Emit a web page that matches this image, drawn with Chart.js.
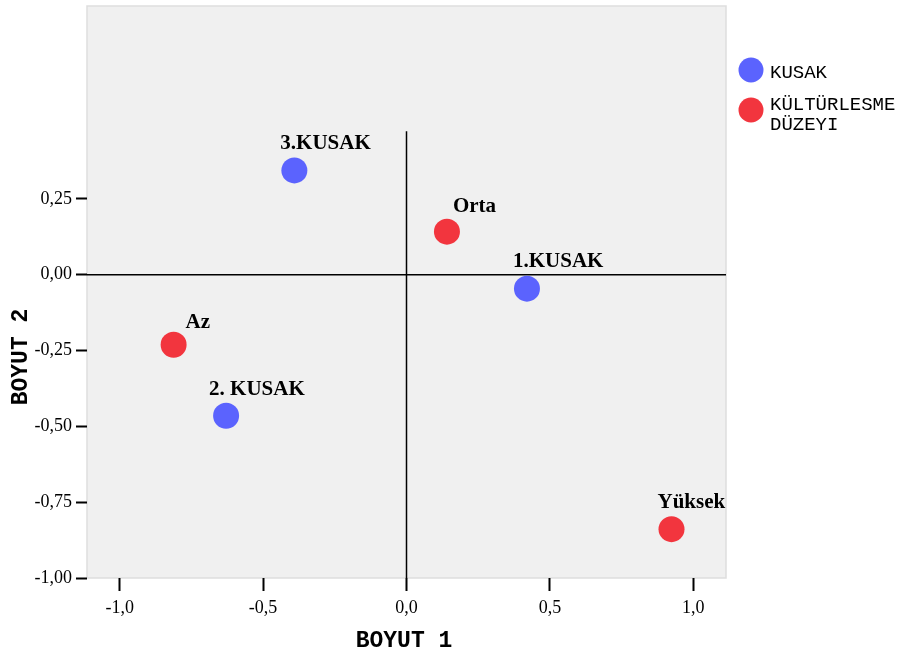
<!DOCTYPE html>
<html>
<head>
<meta charset="utf-8">
<script src="https://cdn.jsdelivr.net/npm/chart.js@4/dist/chart.umd.min.js"></script>
<style>
  html, body { margin: 0; padding: 0; background: #ffffff; }
  #wrap { width: 898px; height: 654px; }
</style>
</head>
<body>
<div id="wrap"><canvas id="c" width="898" height="654"></canvas></div>
<script>
// Joint plot of category points on two dimensions
const seriesNames = ['KUSAK', 'KÜLTÜRLESME DÜZEYI'];

const kusakLabels = ['1.KUSAK', '2. KUSAK', '3.KUSAK'];
const kusakX = [0.420, -0.629, -0.391];
const kusakY = [-0.046, -0.465, 0.344];

const duzeyLabels = ['Az', 'Orta', 'Yüksek'];
const duzeyX = [-0.812, 0.141, 0.924];
const duzeyY = [-0.231, 0.142, -0.839];

const xTicks = [-1.0, -0.5, 0.0, 0.5, 1.0];
const yTicks = [-1.0, -0.75, -0.5, -0.25, 0.0, 0.25];

const xTitle = 'BOYUT 1';
const yTitle = 'BOYUT 2';

// Label placement relative to each point (pixels: left edge, baseline)
const labelOffsets = {
  '1.KUSAK': [-14, -22],
  '2. KUSAK': [-17, -21],
  '3.KUSAK': [-14, -21],
  'Az': [12, -17],
  'Orta': [6, -20],
  'Yüksek': [-14, -21]
};

const COLORS = ['#5b63fe', '#f2353e'];
const REF_LINE_TOP = 0.473;   // upper end of the vertical zero line

const decorPlugin = {
  id: 'decor',
  beforeDraw(chart) {
    const { ctx, chartArea: a } = chart;
    ctx.save();
    ctx.fillStyle = '#ffffff';
    ctx.fillRect(0, 0, chart.width, chart.height);
    ctx.fillStyle = '#f0f0f0';
    ctx.fillRect(a.left, a.top, a.right - a.left, a.bottom - a.top);
    ctx.strokeStyle = '#dedede';
    ctx.lineWidth = 1.5;
    ctx.strokeRect(a.left, a.top, a.right - a.left, a.bottom - a.top);
    ctx.restore();
  },
  beforeDatasetsDraw(chart) {
    const { ctx, chartArea: a, scales: { x, y } } = chart;
    ctx.save();
    ctx.strokeStyle = '#000000';
    ctx.lineWidth = 1.5;
    const y0 = y.getPixelForValue(0);
    ctx.beginPath();
    ctx.moveTo(a.left, y0);
    ctx.lineTo(a.right, y0);
    ctx.stroke();
    const x0 = x.getPixelForValue(0);
    ctx.beginPath();
    ctx.moveTo(x0, y.getPixelForValue(REF_LINE_TOP));
    ctx.lineTo(x0, a.bottom);
    ctx.stroke();
    ctx.restore();
  },
  afterDatasetsDraw(chart) {
    const { ctx, scales: { x, y } } = chart;
    ctx.save();
    ctx.fillStyle = '#000000';
    ctx.font = 'bold 21px "Liberation Serif", "Times New Roman", serif';
    ctx.textAlign = 'left';
    ctx.textBaseline = 'alphabetic';
    chart.data.datasets.forEach(ds => {
      ds.data.forEach(p => {
        const off = labelOffsets[p.name] || [0, -20];
        ctx.fillText(p.name, x.getPixelForValue(p.x) + off[0], y.getPixelForValue(p.y) + off[1]);
      });
    });
    ctx.restore();
  },
  afterDraw(chart) {
    const { ctx, chartArea: a } = chart;
    ctx.save();
    // legend
    const lx = a.right + 25;
    let ly = 70;
    ctx.font = '19px "Liberation Mono", "Courier New", monospace';
    ctx.textAlign = 'left';
    ctx.textBaseline = 'alphabetic';
    chart.data.datasets.forEach((ds, i) => {
      ctx.fillStyle = ds.backgroundColor;
      ctx.beginPath();
      ctx.arc(lx, ly, 12.5, 0, Math.PI * 2);
      ctx.fill();
      ctx.fillStyle = '#000000';
      const lines = ds.label.split(' ');
      const base = lines.length > 1 ? ly : ly + 8;
      lines.forEach((t, k) => ctx.fillText(t, lx + 19, base + k * 20));
      ly += 40;
    });
    // axis titles
    ctx.font = 'bold 23px "Liberation Mono", "Courier New", monospace';
    ctx.textAlign = 'center';
    ctx.textBaseline = 'middle';
    ctx.fillText(xTitle, 404, 641);
    ctx.translate(21, 357);
    ctx.rotate(-Math.PI / 2);
    ctx.fillText(yTitle, 0, 0);
    ctx.restore();
  }
};

const tickFont = { family: '"Liberation Serif", "Times New Roman", serif', size: 18 };

new Chart(document.getElementById('c'), {
  type: 'scatter',
  data: {
    datasets: [
      {
        label: seriesNames[0],
        data: kusakX.map((v, i) => ({ x: v, y: kusakY[i], name: kusakLabels[i] })),
        backgroundColor: COLORS[0],
        borderWidth: 0,
        pointRadius: 13,
        pointHoverRadius: 13
      },
      {
        label: seriesNames[1],
        data: duzeyX.map((v, i) => ({ x: v, y: duzeyY[i], name: duzeyLabels[i] })),
        backgroundColor: COLORS[1],
        borderWidth: 0,
        pointRadius: 13,
        pointHoverRadius: 13
      }
    ]
  },
  options: {
    responsive: false,
    animation: false,
    events: [],
    layout: { autoPadding: false, padding: { top: 6, right: 172, left: 0, bottom: 0 } },
    plugins: { legend: { display: false }, tooltip: { enabled: false } },
    scales: {
      x: {
        type: 'linear',
        min: -1.114,
        max: 1.114,
        afterBuildTicks: s => { s.ticks = xTicks.map(v => ({ value: v })); },
        afterFit: s => { s.height = 76; s.paddingLeft = 0; s.paddingRight = 0; },
        border: { display: false },
        grid: { drawOnChartArea: false, drawTicks: true, tickLength: 13, tickWidth: 2, tickColor: '#000000' },
        ticks: {
          font: tickFont, color: '#000000', padding: 6, autoSkip: false, maxRotation: 0,
          callback: v => v.toFixed(1).replace('.', ',')
        }
      },
      y: {
        type: 'linear',
        min: -1.0,
        max: 0.886,
        afterBuildTicks: s => { s.ticks = yTicks.map(v => ({ value: v })); },
        afterFit: s => { s.width = 87; s.paddingTop = 0; s.paddingBottom = 0; },
        border: { display: false },
        grid: { drawOnChartArea: false, drawTicks: true, tickLength: 11, tickWidth: 2, tickColor: '#000000' },
        ticks: {
          font: tickFont, color: '#000000', padding: 4, autoSkip: false,
          callback: v => v.toFixed(2).replace('.', ',')
        }
      }
    }
  },
  plugins: [decorPlugin]
});
</script>
</body>
</html>
